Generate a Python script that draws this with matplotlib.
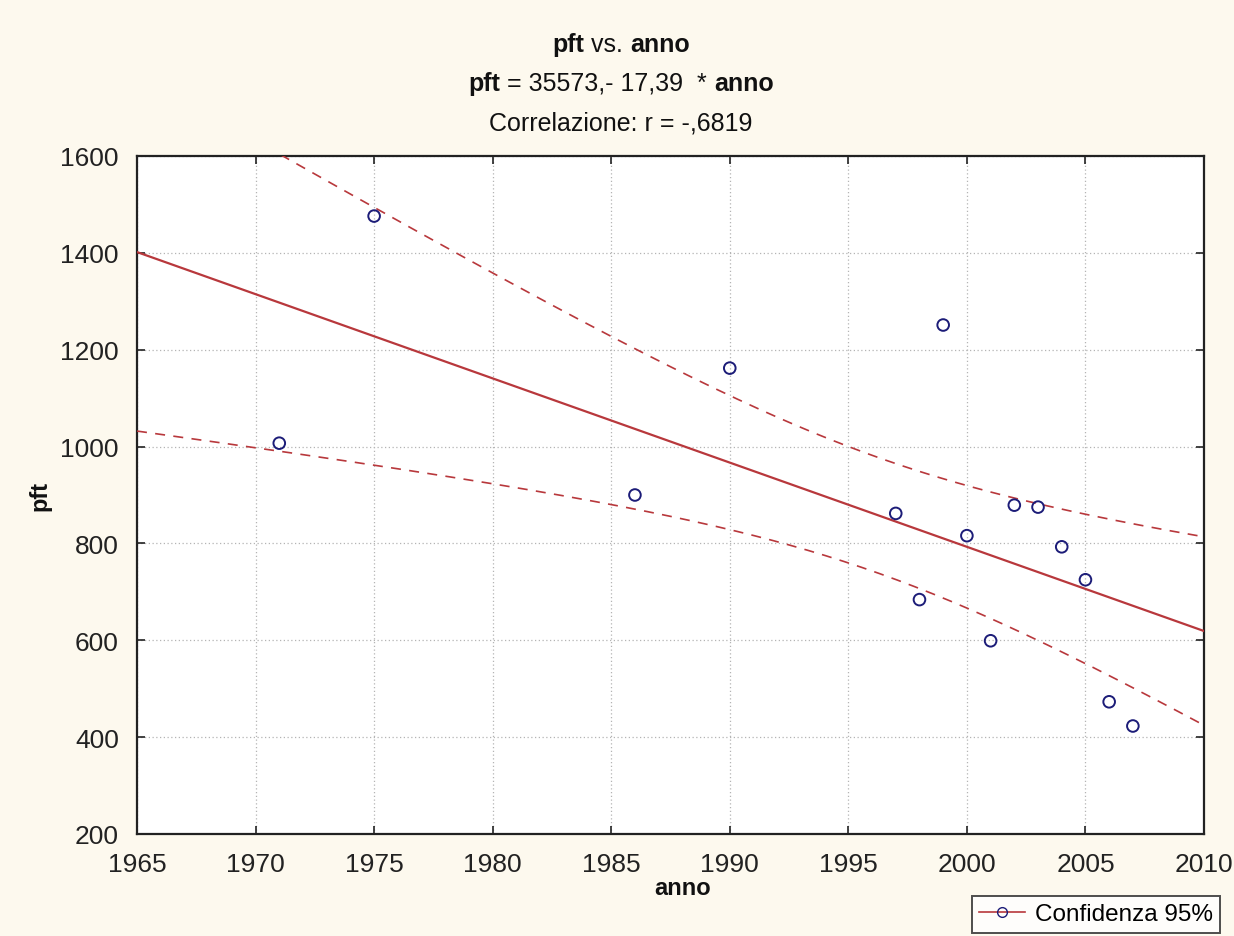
import matplotlib
matplotlib.use("Agg")
import matplotlib.pyplot as plt
from matplotlib.lines import Line2D
import numpy as np

# ---- data ----
anno = [1971, 1975, 1986, 1990, 1997, 1998, 1999, 2000, 2001, 2002, 2003, 2004, 2005, 2006, 2007]
pft = [1007, 1476, 900, 1162, 862, 684, 1251, 816, 599, 879, 875, 793, 725, 473, 423]
intercept = 35573.0
slope = -17.39
t_975 = 2.160  # t(0.975, df=13)
x_ticks = [1965, 1970, 1975, 1980, 1985, 1990, 1995, 2000, 2005, 2010]
y_ticks = [200, 400, 600, 800, 1000, 1200, 1400, 1600]

BG = "#fdf9ee"
RED = "#b8383c"
BLUE = "#1c1c78"
FONT = ["Liberation Sans", "DejaVu Sans"]

plt.rcParams["font.family"] = FONT

fig = plt.figure(figsize=(12.34, 9.37), dpi=100, facecolor=BG)
ax = fig.add_axes([137 / 1234, 1 - 835 / 937, (1204 - 137) / 1234, (835 - 157) / 937])
ax.set_facecolor("white")

x = np.asarray(anno, float)
y = np.asarray(pft, float)
n = len(x)
xs = np.linspace(1965, 2010, 300)
fit = intercept + slope * xs
resid = y - (intercept + slope * x)
s = np.sqrt(np.sum(resid ** 2) / (n - 2))
sxx = np.sum((x - x.mean()) ** 2)
half = t_975 * s * np.sqrt(1.0 / n + (xs - x.mean()) ** 2 / sxx)

ax.plot(xs, fit, color=RED, lw=1.6, zorder=3)
ax.plot(xs, fit + half, color=RED, lw=1.2, ls=(0, (6, 5)), zorder=3)
ax.plot(xs, fit - half, color=RED, lw=1.2, ls=(0, (6, 5)), zorder=3)
ax.scatter(x, y, s=70, facecolors="none", edgecolors=BLUE, linewidths=1.4, zorder=4)

ax.set_xlim(1965, 2010)
ax.set_ylim(200, 1600)
ax.set_xticks(x_ticks)
ax.set_yticks(y_ticks)
ax.grid(True, color="#b4b4b4", ls=(0, (1, 2)), lw=0.9)
ax.tick_params(direction="in", length=6, width=1.2, top=True, right=True,
               labelsize=19, colors="#222222")
ax.tick_params(axis="y", pad=13)
ax.tick_params(axis="x", pad=13)
for sp in ax.spines.values():
    sp.set_linewidth(1.6)
    sp.set_color("#222222")

fig.text(40 / 1234, 1 - 496 / 937, "pft", rotation=90, ha="center", va="center",
         fontsize=17, fontweight="bold", color="#111111")
fig.text(683 / 1234, 1 - 889 / 937, "anno", ha="center", va="center",
         fontsize=17, fontweight="bold", color="#111111")

renderer = fig.canvas.get_renderer()


def rich_line(segments, cx, cy, size):
    texts = []
    widths = []
    for txt, bold in segments:
        t = fig.text(0, cy, txt, fontsize=size, va="center", ha="left",
                     fontweight="bold" if bold else "normal",
                     color="#111111")
        bb = t.get_window_extent(renderer=renderer)
        texts.append(t)
        widths.append(bb.width / fig.bbox.width)
    total = sum(widths)
    pos = cx - total / 2
    for t, w in zip(texts, widths):
        t.set_x(pos)
        pos += w


cx = 621 / 1234
rich_line([("pft", True), (" vs. ", False), ("anno", True)], cx, 1 - 45 / 937, 18)
rich_line([("pft", True), (" = 35573,- 17,39  * ", False), ("anno", True)], cx, 1 - 84 / 937, 18)
rich_line([("Correlazione: r = -,6819", False)], cx, 1 - 124 / 937, 18)

handle = Line2D([], [], color=RED, lw=1.2, marker="o", markerfacecolor="none",
                markeredgecolor=BLUE, markersize=7)
leg = fig.legend([handle], ["Confidenza 95%"], loc="upper left",
                 bbox_to_anchor=(972 / 1234, 1 - 897 / 937), frameon=True,
                 fancybox=False, fontsize=17.5, handlelength=1.9, borderpad=0.3,
                 handletextpad=0.4, borderaxespad=0)
leg.get_frame().set_edgecolor("#222222")
leg.get_frame().set_linewidth(1.4)
leg.get_frame().set_facecolor("white")

fig.savefig("out.png", dpi=100, facecolor=BG)
